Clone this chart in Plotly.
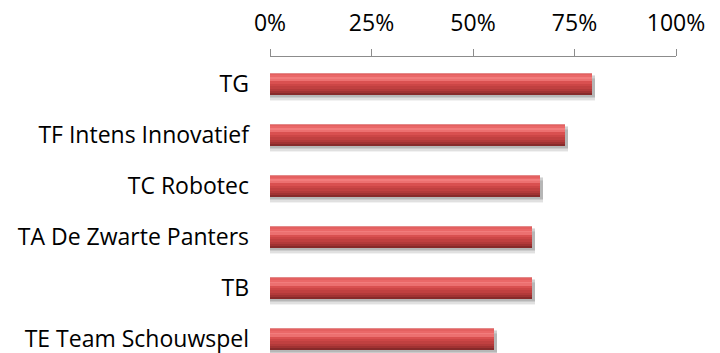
import plotly.graph_objects as go

# Team scores (share of maximum, in %)
teams = ["TG", "TF Intens Innovatief", "TC Robotec", "TA De Zwarte Panters", "TB", "TE Team Schouwspel"]
scores = [79.4, 72.7, 66.5, 64.6, 64.6, 55.2]
x_ticks = [0, 25, 50, 75, 100]
x_tick_labels = ["0%", "25%", "50%", "75%", "100%"]

positions = list(range(len(teams)))
bar_w = 0.43

fig = go.Figure()

# soft drop shadow under each bar
for dy, alpha in [(0.12, 0.05), (0.09, 0.07), (0.06, 0.09), (0.03, 0.10)]:
    fig.add_trace(go.Bar(
        x=[s + 0.7 for s in scores], y=positions, orientation="h",
        width=bar_w, offset=-bar_w / 2 + dy,
        marker=dict(color=f"rgba(0,0,0,{alpha})", line=dict(width=0)),
        hoverinfo="skip", showlegend=False,
    ))

# bevelled red bar built from horizontal colour bands (top to bottom)
bands = [
    (0.00, 0.05, "#e38a8a"),
    (0.05, 0.13, "#e46060"),
    (0.13, 0.22, "#ea6868"),
    (0.22, 0.30, "#f27c7c"),
    (0.30, 0.38, "#ec7070"),
    (0.38, 0.48, "#d95050"),
    (0.48, 0.60, "#cc4646"),
    (0.60, 0.72, "#c04040"),
    (0.72, 0.84, "#b23a3a"),
    (0.84, 0.93, "#a03232"),
    (0.93, 1.00, "#862a2a"),
]
for f0, f1, col in bands:
    fig.add_trace(go.Bar(
        x=scores, y=positions, orientation="h",
        width=bar_w * (f1 - f0), offset=-bar_w / 2 + bar_w * f0,
        marker=dict(color=col, line=dict(width=0)),
        hoverinfo="skip", showlegend=False,
    ))

font_family = "'Open Sans', Calibri, Carlito, sans-serif"

fig.update_layout(
    width=720, height=353,
    margin=dict(l=270, r=44, t=57, b=0),
    paper_bgcolor="white", plot_bgcolor="white",
    barmode="overlay",
    bargap=0,
    showlegend=False,
    font=dict(family=font_family, color="#000000"),
    xaxis=dict(
        side="top", range=[0, 100],
        tickvals=x_ticks, ticktext=x_tick_labels,
        showgrid=False, zeroline=False,
        showline=True, linecolor="#8c8c8c", linewidth=1,
        ticks="outside", ticklen=7, tickcolor="#8c8c8c", tickwidth=1,
        tickfont=dict(size=23, family=font_family, color="#000000"),
        ticklabelstandoff=9,
        ticklabeloverflow="allow",
        fixedrange=True,
    ),
    yaxis=dict(
        range=[5.27, -0.53],
        tickvals=positions, ticktext=teams,
        showgrid=False, zeroline=False, showline=False,
        ticks="", ticklabelstandoff=20,
        ticklabeloverflow="allow",
        tickfont=dict(size=23, family=font_family, color="#000000"),
        fixedrange=True,
    ),
)

fig.write_html("out.html")
